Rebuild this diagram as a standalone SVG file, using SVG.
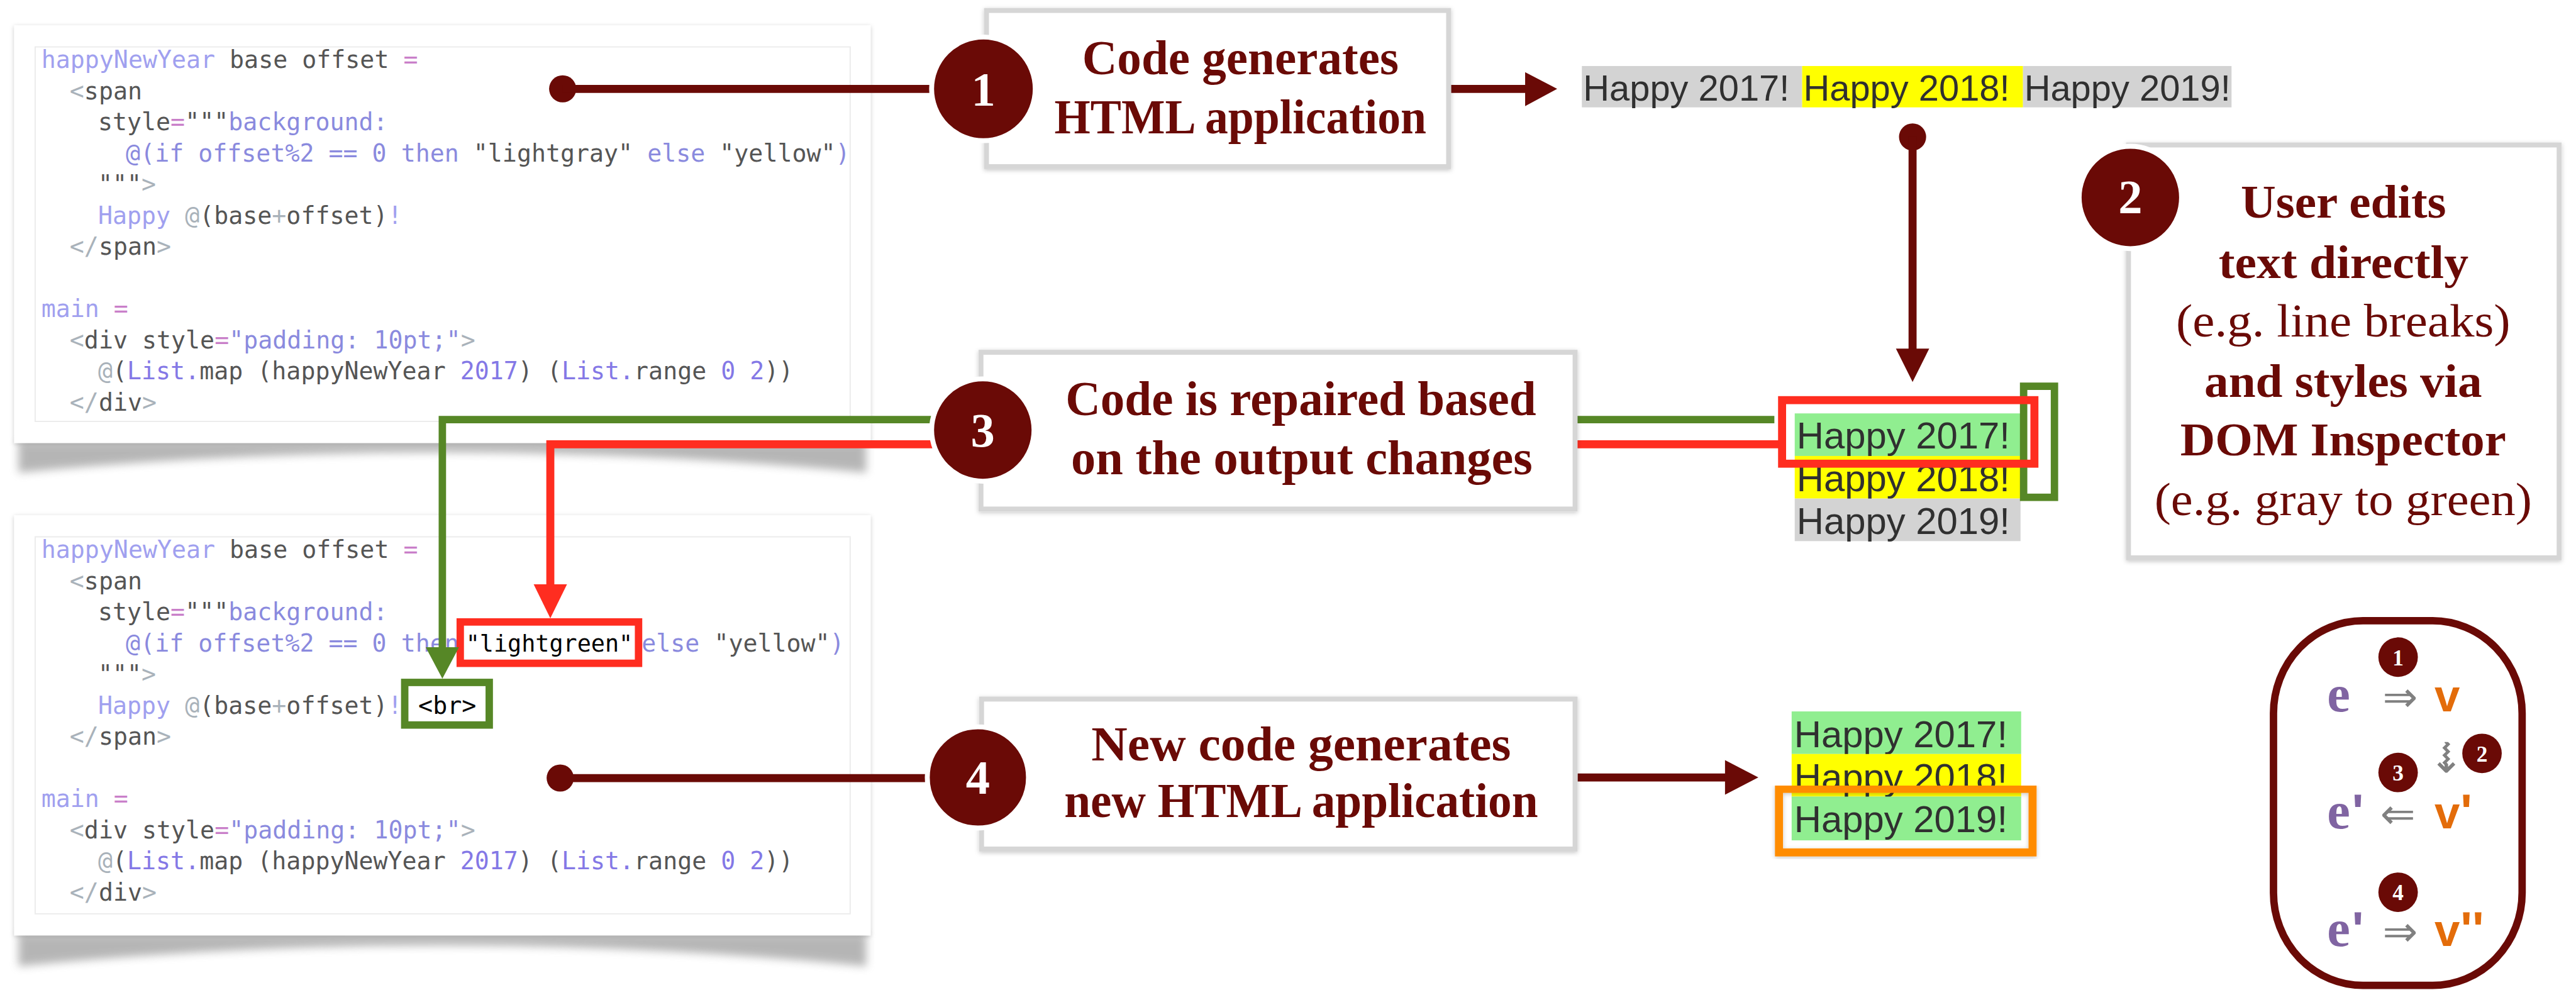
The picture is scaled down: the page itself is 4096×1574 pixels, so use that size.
<svg xmlns="http://www.w3.org/2000/svg" width="4096" height="1574" viewBox="0 0 4096 1574">
<defs>
<style>
.code{font-family:"DejaVu Sans Mono","Liberation Mono",monospace;font-size:39px}
.k1{fill:#a0a0ef}
.k2{fill:#8a8ade}
.k3{fill:#8478e6}
.dk{fill:#555555}
.lg{fill:#a9b2ba}
.pk{fill:#c97fc9}
.bk{fill:#000}
.card{fill:#fff}
.inner{fill:#fff;stroke:#ececec;stroke-width:2}
.lbl{font-family:"Liberation Serif","Times New Roman",serif;font-weight:bold;font-size:80px;fill:#6a0a06}
.lbl2{font-family:"Liberation Serif","Times New Roman",serif;font-weight:bold;font-size:76px;fill:#6a0a06}
.reg{font-weight:normal}
.num{font-family:"Liberation Serif","Times New Roman",serif;font-weight:bold;font-size:78px;fill:#fff;text-anchor:middle}
.step{fill:#fff;stroke:#d6d6d6;stroke-width:8}
.badge{fill:#6a0a06;stroke:#fff;stroke-width:8}
.html{font-family:"Liberation Sans",Arial,sans-serif;fill:#303030}
.dr{stroke:#6a0a06;stroke-width:13;fill:none}
.drf{fill:#6a0a06}
.lnum{font-family:"Liberation Serif","Times New Roman",serif;font-weight:bold;font-size:36px;fill:#fff;text-anchor:middle}
.le{font-family:"Liberation Serif","Times New Roman",serif;font-weight:bold;font-size:84px;fill:#8064a2}
.lv{font-family:"Liberation Sans",Arial,sans-serif;font-weight:bold;font-size:74px;fill:#e36c0a}
.pr{font-family:"Liberation Sans",Arial,sans-serif;font-weight:bold;font-size:80px}
.la{font-family:"DejaVu Sans",sans-serif;font-size:68px;fill:#808080}
</style>
<filter id="sh" x="-5%" y="-5%" width="110%" height="115%">
<feDropShadow dx="0" dy="2" stdDeviation="4" flood-color="#000" flood-opacity="0.22"/>
</filter>
<filter id="blur" x="-5%" y="-50%" width="110%" height="200%">
<feGaussianBlur stdDeviation="7"/>
</filter>
</defs>
<rect width="4096" height="1574" fill="#fff"/>
<g transform="scale(0.981)">

<!-- Original code panel -->
<g id="code-original">
<path d="M30,716 L1404,716 L1404,766 Q717,700 30,766 Z" fill="#7a7a7a" opacity="0.55" filter="url(#blur)"/>
<rect class="card" x="23" y="41" width="1388" height="677" filter="url(#sh)"/>
<rect class="inner" x="57" y="76" width="1321" height="607"/>
<text class="code" x="67" y="110"><tspan class="k1">happyNewYear</tspan><tspan class="dk"> base offset </tspan><tspan class="pk">=</tspan></text>
<text class="code" x="113" y="161"><tspan class="lg">&lt;</tspan><tspan class="dk">span</tspan></text>
<text class="code" x="159" y="211"><tspan class="dk">style</tspan><tspan class="pk">=</tspan><tspan class="dk">"""</tspan><tspan class="k2">background:</tspan></text>
<text class="code" x="204" y="262"><tspan class="k2">@(if offset%2 == 0 then </tspan><tspan class="dk">"lightgray"</tspan><tspan class="k2"> else </tspan><tspan class="dk">"yellow"</tspan><tspan class="k2">)</tspan></text>
<text class="code" x="159" y="312"><tspan class="dk">"""</tspan><tspan class="lg">&gt;</tspan></text>
<text class="code" x="159" y="363"><tspan class="k1">Happy </tspan><tspan class="lg">@</tspan><tspan class="dk">(base</tspan><tspan class="lg">+</tspan><tspan class="dk">offset)</tspan><tspan class="k1">!</tspan></text>
<text class="code" x="113" y="413"><tspan class="lg">&lt;/</tspan><tspan class="dk">span</tspan><tspan class="lg">&gt;</tspan></text>
<text class="code" x="67" y="514"><tspan class="k1">main </tspan><tspan class="pk">=</tspan></text>
<text class="code" x="113" y="565"><tspan class="lg">&lt;</tspan><tspan class="dk">div style</tspan><tspan class="pk">=</tspan><tspan class="k2">"padding: 10pt;"</tspan><tspan class="lg">&gt;</tspan></text>
<text class="code" x="159" y="615"><tspan class="lg">@</tspan><tspan class="dk">(</tspan><tspan class="k3">List.</tspan><tspan class="dk">map (happyNewYear </tspan><tspan class="k3">2017</tspan><tspan class="dk">) (</tspan><tspan class="k3">List.</tspan><tspan class="dk">range </tspan><tspan class="k3">0 2</tspan><tspan class="dk">))</tspan></text>
<text class="code" x="113" y="666"><tspan class="lg">&lt;/</tspan><tspan class="dk">div</tspan><tspan class="lg">&gt;</tspan></text>
</g>

<!-- Repaired code panel -->
<g id="code-repaired">
<path d="M30,1514 L1404,1514 L1404,1566 Q717,1498 30,1566 Z" fill="#7a7a7a" opacity="0.55" filter="url(#blur)"/>
<rect class="card" x="23" y="835" width="1388" height="681" filter="url(#sh)"/>
<rect class="inner" x="57" y="870" width="1321" height="611"/>
<text class="code" x="67" y="904"><tspan class="k1">happyNewYear</tspan><tspan class="dk"> base offset </tspan><tspan class="pk">=</tspan></text>
<text class="code" x="113" y="955"><tspan class="lg">&lt;</tspan><tspan class="dk">span</tspan></text>
<text class="code" x="159" y="1005"><tspan class="dk">style</tspan><tspan class="pk">=</tspan><tspan class="dk">"""</tspan><tspan class="k2">background:</tspan></text>
<text class="code" x="204" y="1056"><tspan class="k2">@(if offset%2 == 0 then</tspan><tspan class="bk" x="755" font-size="37.5">"lightgreen"</tspan><tspan class="k2" x="1040">else </tspan><tspan class="dk">"yellow"</tspan><tspan class="k2">)</tspan></text>
<text class="code" x="159" y="1106"><tspan class="dk">"""</tspan><tspan class="lg">&gt;</tspan></text>
<text class="code" x="159" y="1157"><tspan class="k1">Happy </tspan><tspan class="lg">@</tspan><tspan class="dk">(base</tspan><tspan class="lg">+</tspan><tspan class="dk">offset)</tspan><tspan class="k1">!</tspan><tspan class="bk" x="678">&lt;br&gt;</tspan></text>
<text class="code" x="113" y="1207"><tspan class="lg">&lt;/</tspan><tspan class="dk">span</tspan><tspan class="lg">&gt;</tspan></text>
<text class="code" x="67" y="1308"><tspan class="k1">main </tspan><tspan class="pk">=</tspan></text>
<text class="code" x="113" y="1359"><tspan class="lg">&lt;</tspan><tspan class="dk">div style</tspan><tspan class="pk">=</tspan><tspan class="k2">"padding: 10pt;"</tspan><tspan class="lg">&gt;</tspan></text>
<text class="code" x="159" y="1409"><tspan class="lg">@</tspan><tspan class="dk">(</tspan><tspan class="k3">List.</tspan><tspan class="dk">map (happyNewYear </tspan><tspan class="k3">2017</tspan><tspan class="dk">) (</tspan><tspan class="k3">List.</tspan><tspan class="dk">range </tspan><tspan class="k3">0 2</tspan><tspan class="dk">))</tspan></text>
<text class="code" x="113" y="1460"><tspan class="lg">&lt;/</tspan><tspan class="dk">div</tspan><tspan class="lg">&gt;</tspan></text>
<rect x="746" y="1008" width="289" height="67" fill="none" stroke="#ff2d20" stroke-width="12"/>
<rect x="656" y="1106" width="137" height="69" fill="none" stroke="#568726" stroke-width="12"/>
</g>

<!-- Connectors -->
<g id="connectors">
<circle class="drf" cx="912" cy="144" r="22"/>
<line class="dr" x1="912" y1="144" x2="1594" y2="144"/>
<line class="dr" x1="2352" y1="144" x2="2476" y2="144"/>
<polygon class="drf" points="2472,117 2524,144 2472,172"/>
<circle class="drf" cx="3100" cy="222" r="22"/>
<line class="dr" x1="3100" y1="222" x2="3100" y2="568"/>
<polygon class="drf" points="3073,565 3127,565 3100,619"/>
<path d="M2876,680 H717 V1052" fill="none" stroke="#568726" stroke-width="12"/>
<polygon points="690,1049 744,1049 717,1100" fill="#568726"/>
<path d="M2884,720 H892 V950" fill="none" stroke="#ff2d20" stroke-width="13"/>
<polygon points="865,947 919,947 892,1002" fill="#ff2d20"/>
<circle class="drf" cx="908" cy="1261" r="22"/>
<line class="dr" x1="908" y1="1261" x2="1585" y2="1261"/>
<line class="dr" x1="2557" y1="1260" x2="2800" y2="1260"/>
<polygon class="drf" points="2796,1232 2850,1260 2796,1288"/>
</g>

<!-- Step 1 -->
<g id="step1">
<rect class="step" x="1599" y="17" width="749" height="253" filter="url(#sh)"/>
<circle class="badge" cx="1594" cy="144" r="84"/>
<text class="num" x="1594" y="171">1</text>
<text class="lbl" x="1754" y="120" textLength="513" lengthAdjust="spacingAndGlyphs">Code generates</text>
<text class="lbl" x="1709" y="216" textLength="603" lengthAdjust="spacingAndGlyphs">HTML application</text>
</g>

<!-- Step 2 -->
<g id="step2">
<rect class="step" x="3450" y="235" width="698" height="669" filter="url(#sh)"/>
<circle class="badge" cx="3453" cy="320" r="83"/>
<text class="num" x="3453" y="346">2</text>
<text class="lbl2" x="3632" y="353" textLength="333" lengthAdjust="spacingAndGlyphs">User edits</text>
<text class="lbl2" x="3596" y="451" textLength="405" lengthAdjust="spacingAndGlyphs">text directly</text>
<text class="lbl2 reg" x="3527" y="545" textLength="542" lengthAdjust="spacingAndGlyphs">(e.g. line breaks)</text>
<text class="lbl2" x="3573" y="643" textLength="450" lengthAdjust="spacingAndGlyphs">and styles via</text>
<text class="lbl2" x="3534" y="738" textLength="528" lengthAdjust="spacingAndGlyphs">DOM Inspector</text>
<text class="lbl2 reg" x="3492" y="835" textLength="612" lengthAdjust="spacingAndGlyphs">(e.g. gray to green)</text>
</g>

<!-- Step 3 -->
<g id="step3">
<rect class="step" x="1590" y="571" width="963" height="254" filter="url(#sh)"/>
<circle class="badge" cx="1593" cy="697" r="83"/>
<text class="num" x="1593" y="724">3</text>
<text class="lbl" x="1727" y="673" textLength="763" lengthAdjust="spacingAndGlyphs">Code is repaired based</text>
<text class="lbl" x="1736" y="769" textLength="748" lengthAdjust="spacingAndGlyphs">on the output changes</text>
</g>

<!-- Step 4 -->
<g id="step4">
<rect class="step" x="1591" y="1133" width="962" height="243" filter="url(#sh)"/>
<circle class="badge" cx="1585" cy="1260" r="82"/>
<text class="num" x="1585" y="1286">4</text>
<text class="lbl" x="1769" y="1232" textLength="680" lengthAdjust="spacingAndGlyphs">New code generates</text>
<text class="lbl" x="1725" y="1324" textLength="768" lengthAdjust="spacingAndGlyphs">new HTML application</text>
</g>

<!-- HTML output 1 -->
<g id="html-output-1">
<rect x="2564" y="107" width="357" height="67" fill="#d3d3d3"/>
<rect x="2921" y="107" width="358" height="67" fill="#ffff00"/>
<rect x="3279" y="107" width="338" height="67" fill="#d3d3d3"/>
<text class="html" x="2566" y="163" font-size="59">Happy 2017!</text>
<text class="html" x="2923" y="163" font-size="59">Happy 2018!</text>
<text class="html" x="3281" y="163" font-size="59">Happy 2019!</text>
</g>

<!-- HTML output 2 (edited) -->
<g id="html-output-2">
<rect x="2909" y="670" width="366" height="69" fill="#90ee90"/>
<text class="html" x="2912" y="727" font-size="61">Happy 2017!</text>
<rect x="2909" y="739" width="366" height="69" fill="#ffff00"/>
<text class="html" x="2912" y="796" font-size="61">Happy 2018!</text>
<rect x="2909" y="808" width="366" height="69" fill="#d3d3d3"/>
<text class="html" x="2912" y="865" font-size="61">Happy 2019!</text>
<rect x="3280" y="626" width="50" height="180" fill="none" stroke="#568726" stroke-width="12"/>
<rect x="2888.5" y="648.5" width="409" height="103" fill="none" stroke="#ff2d20" stroke-width="13"/>
</g>

<!-- HTML output 3 (new) -->
<g id="html-output-3">
<rect x="2904" y="1153" width="372" height="69" fill="#90ee90"/>
<text class="html" x="2908" y="1211" font-size="61">Happy 2017!</text>
<rect x="2904" y="1222" width="372" height="69" fill="#ffff00"/>
<text class="html" x="2908" y="1280" font-size="61">Happy 2018!</text>
<rect x="2904" y="1291" width="372" height="71" fill="#90ee90"/>
<text class="html" x="2908" y="1349" font-size="61">Happy 2019!</text>
<rect x="2883.5" y="1278.5" width="411" height="103" fill="none" stroke="#ff8c00" stroke-width="13" filter="url(#sh)"/>
</g>

<!-- Legend -->
<g id="legend">
<rect x="3685" y="1006" width="403" height="591" rx="145" ry="150" fill="#fff" stroke="#6a0a06" stroke-width="12"/>
<circle class="drf" cx="3887" cy="1065" r="32"/>
<text class="lnum" x="3887" y="1078">1</text>
<text class="le" x="3772" y="1153">e</text>
<text class="la" x="3862" y="1153">⇒</text>
<text class="lv" x="3946" y="1153">v</text>
<text class="la" font-size="66" text-anchor="middle" transform="translate(3966,1227) rotate(90)" x="0" y="22">⇝</text>
<circle class="drf" cx="4023" cy="1221" r="32"/>
<text class="lnum" x="4023" y="1234">2</text>
<circle class="drf" cx="3887" cy="1252" r="32"/>
<text class="lnum" x="3887" y="1265">3</text>
<text class="le" x="3772" y="1343">e<tspan class="pr" dx="3">'</tspan></text>
<text class="la" x="3858" y="1343">⇐</text>
<text class="lv" x="3946" y="1343">v<tspan class="pr" dx="1">'</tspan></text>
<circle class="drf" cx="3887" cy="1446" r="32"/>
<text class="lnum" x="3887" y="1459">4</text>
<text class="le" x="3772" y="1533">e<tspan class="pr" dx="3">'</tspan></text>
<text class="la" x="3862" y="1533">⇒</text>
<text class="lv" x="3946" y="1533">v<tspan class="pr" dx="1">''</tspan></text>
</g>

</g>
</svg>
